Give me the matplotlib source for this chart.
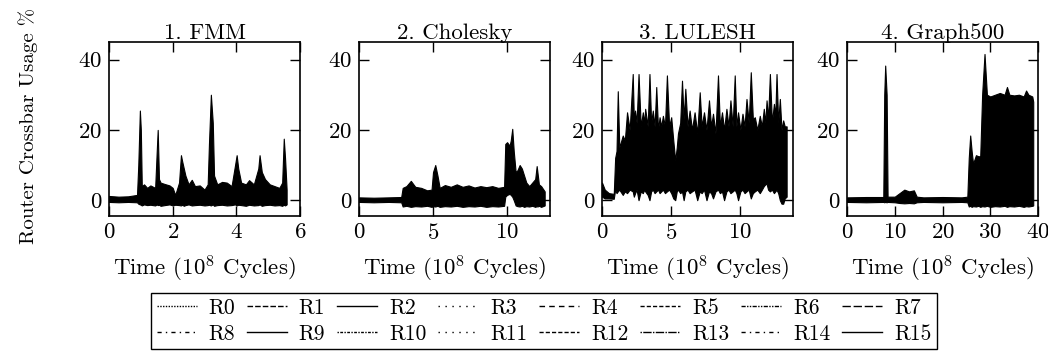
import matplotlib
matplotlib.use("Agg")
import matplotlib.pyplot as plt
from matplotlib.lines import Line2D

plt.rcParams["font.family"] = "serif"
plt.rcParams["font.serif"] = ["cmr10", "DejaVu Serif"]
plt.rcParams["mathtext.fontset"] = "cm"
plt.rcParams["axes.formatter.use_mathtext"] = True

# panel titles and x ranges
titles = ["1. FMM", "2. Cholesky", "3. LULESH", "4. Graph500"]
xmax = [6, 12.9, 13.8, 40]
xticks = [[0, 2, 4, 6], [0, 5, 10], [0, 5, 10], [0, 10, 20, 30, 40]]
routers = ["R%d" % i for i in range(16)]

# 1. FMM (envelope of all routers)
fmm_t = [0.0, 0.3, 0.6, 0.88, 0.92, 0.97, 1.0, 1.03, 1.1, 1.2,
         1.3, 1.45, 1.5, 1.53, 1.57, 1.62, 1.75, 1.9, 2.0, 2.08,
         2.2, 2.26, 2.3, 2.35, 2.4, 2.5, 2.6, 2.7, 2.85, 3.0,
         3.1, 3.14, 3.2, 3.26, 3.3, 3.4, 3.55, 3.7, 3.85, 3.96,
         4.01, 4.06, 4.15, 4.3, 4.4, 4.55, 4.69, 4.73, 4.8, 4.9,
         5.05, 5.2, 5.35, 5.44, 5.49, 5.53, 5.58]
fmm_hi = [1.2, 1.0, 1.1, 1.5, 10, 25.5, 20, 4, 4.5, 3.5,
          4.2, 3.5, 14, 20, 6, 5, 4.6, 4.2, 3.5, 1.5,
          5, 12.8, 11, 9, 7, 4.5, 5.8, 4.0, 4.2, 3.0,
          4.5, 16, 30, 22, 7, 4.5, 5.2, 5.0, 4.0, 10,
          12.8, 9, 5, 4.5, 5.7, 4.5, 9, 12.8, 8, 6,
          4.5, 4.0, 3.5, 5, 17.5, 12, 3]
fmm_lo = [-0.5, -0.6, -0.5, -0.6, -1.0, -1.2, -1.3, -1.5, -1.2, -1.4,
          -1.3, -1.5, -1.2, -1.4, -1.3, -1.6, -1.4, -1.2, -1.5, -1.3,
          -1.4, -1.5, -1.3, -1.6, -1.4, -1.2, -1.5, -1.4, -1.3, -1.5,
          -1.4, -1.3, -1.5, -1.2, -1.6, -1.4, -1.3, -1.5, -1.4, -1.2,
          -1.5, -1.3, -1.4, -1.6, -1.3, -1.5, -1.4, -1.2, -1.6, -1.4,
          -1.3, -1.5, -1.4, -1.6, -1.3, -1.5, -1.2]

# 2. Cholesky
chol_t = [0, 1, 2, 2.85, 2.95, 3.2, 3.5, 3.8, 4.2, 4.6,
          4.9, 5.0, 5.15, 5.3, 5.45, 5.8, 6.2, 6.6, 7.0, 7.4,
          7.8, 8.2, 8.6, 9.0, 9.4, 9.8, 9.88, 10.0, 10.17, 10.25,
          10.35, 10.45, 10.58, 10.7, 10.85, 11.0, 11.15, 11.3, 11.5, 11.7,
          11.9, 12.0, 12.05, 12.15, 12.3, 12.54]
chol_hi = [0.8, 0.7, 0.8, 0.9, 3.5, 4, 5.5, 3.8, 3.5, 2.8,
           3, 8, 10, 7, 3.5, 4.3, 3.8, 4.5, 3.8, 4.2,
           3.6, 4.0, 3.7, 4.0, 3.5, 3.8, 16, 16.5, 15.5, 17,
           20.3, 14, 8, 8.5, 10, 9, 7, 5, 4, 5,
           6, 9.7, 8, 4.5, 4.0, 2.5]
chol_lo = [-0.5, -0.6, -0.5, -0.6, -1.8, -1.6, -1.9, -1.7, -1.8, -1.6,
           -1.9, -1.7, -1.8, -1.6, -1.9, -1.7, -1.8, -1.6, -1.9, -1.7,
           -1.8, -1.6, -1.9, -1.7, -1.8, -1.6, 1.0, 1.5, 1.8, 1.5,
           1.0, 0.0, -1.5, -1.7, -1.8, -1.6, -1.9, -1.7, -1.8, -1.6,
           -1.9, -1.7, -1.8, -1.6, -1.9, -1.5]

# 3. LULESH
lul_t = [0, 0.2, 0.5, 0.85, 0.95, 1.05, 1.14, 1.25, 1.5, 1.65,
         1.81, 2.0, 2.22, 2.3, 2.39, 2.5, 2.64, 2.8, 2.95, 3.05,
         3.12, 3.3, 3.43, 3.55, 3.67, 3.8, 3.92, 4.05, 4.16, 4.28,
         4.40, 4.55, 4.69, 4.85, 5.0, 5.15, 5.29, 5.4, 5.49, 5.65,
         5.78, 5.9, 6.02, 6.18, 6.33, 6.5, 6.69, 6.88, 7.06, 7.2,
         7.37, 7.55, 7.73, 7.88, 8.02, 8.2, 8.38, 8.52, 8.67, 8.82,
         8.99, 9.14, 9.28, 9.44, 9.59, 9.71, 9.83, 10.0, 10.15, 10.3,
         10.44, 10.6, 10.75, 10.9, 11.04, 11.22, 11.40, 11.55, 11.69, 11.8,
         11.89, 12.0, 12.13, 12.28, 12.42, 12.52, 12.61, 12.73, 12.85, 12.97,
         13.09, 13.2, 13.34]
lul_hi = [5, 3, 2, 1.8, 12, 14, 31, 15, 18.4, 17,
          25, 20, 35.9, 23, 25.5, 22, 35.9, 21, 25, 22,
          26, 21, 35.9, 22, 25.5, 21, 32.2, 20, 23.6, 21,
          24, 21, 35.5, 21, 23.6, 17, 11.3, 15, 19, 22,
          34, 23, 31.7, 21, 25.5, 20, 25, 19, 30.7, 21,
          25, 20, 28.4, 21, 24.6, 19, 35.5, 21, 25, 20,
          26, 21, 28.4, 21, 35.5, 21, 25, 20, 24.6, 21,
          28.8, 22, 36.4, 23, 23.6, 20, 24, 21, 26, 22,
          28.4, 23, 35.9, 22, 27.4, 24, 35.9, 22, 28.8, 20,
          22.7, 21, 21]
lul_lo = [1.0, 0.5, 0.5, 0.4, 3.0, 2.0, 2.5, 3.0, 1.5, 2.5,
          2.0, 3.0, 2.5, 1.0, 2.0, 3.0, 0.0, 2.5, 2.0, 3.0,
          2.5, 1.5, 0.0, 2.5, 3.0, 2.0, 2.5, 3.0, 2.0, 2.5,
          3.0, 2.0, 2.5, 3.0, 2.0, 0.5, 0.0, 2.5, 3.0, 2.0,
          2.5, 0.0, 2.5, 3.0, 2.0, 2.5, 3.0, 0.0, 2.5, 2.0,
          3.0, 0.0, 2.5, 2.0, 0.5, 2.5, 3.0, 2.0, 2.5, 0.0,
          2.5, 3.0, 2.0, 2.5, 3.0, 2.0, 0.0, 2.5, 3.0, 2.0,
          2.5, 3.0, 0.5, 2.0, 2.5, 3.0, 2.0, 3.0, 4.0, 4.5,
          4.7, 3.0, 2.5, 3.0, 2.0, 2.5, 3.0, 2.0, 0.0, -1.0,
          -1.0, 0.5, 1.0]

# 4. Graph500
g5_t = [0, 4, 7.6, 7.8, 8.0, 8.3, 8.5, 10, 11, 12,
        13, 14, 14.6, 16, 20, 24, 25.2, 25.5, 25.8, 26.1,
        26.4, 27, 27.5, 27.9, 28.3, 28.8, 29.3, 30, 31, 32,
        33, 33.5, 34, 35, 36, 37, 37.5, 38, 38.8, 39.0]
g5_hi = [0.8, 0.9, 0.9, 30, 38.3, 30, 1.0, 1.0, 2.0, 3.0,
         2.5, 2.8, 1.0, 0.8, 0.9, 0.8, 1.0, 12, 18.4, 14,
         10.4, 12.8, 12.5, 12.5, 30, 41.6, 30, 29.5, 30, 30.5,
         30, 32.2, 30, 29.8, 30, 29.5, 31.2, 30, 29.5, 28]
g5_lo = [-0.5, -0.6, -0.5, -0.6, -0.5, -0.6, -0.5, -0.6, -0.8, -0.9,
         -0.8, -0.9, -0.6, -0.5, -0.6, -0.5, -0.6, -1.8, -1.6, -1.9,
         -1.7, -1.8, -1.6, -1.9, -1.7, -1.8, -1.6, -1.9, -1.7, -1.8,
         -1.6, -1.9, -1.7, -1.8, -1.6, -1.9, -1.7, -1.8, -1.6, -1.5]

panels = [(fmm_t, fmm_lo, fmm_hi), (chol_t, chol_lo, chol_hi),
          (lul_t, lul_lo, lul_hi), (g5_t, g5_lo, g5_hi)]

# legend line styles of R0..R15
styles = [(0, (1, 1)), (0, (4, 1.5)), "-", (0, (1, 4)),
          (0, (4, 3)), (0, (3, 1.5)), (0, (3, 1, 1, 1, 1, 1)), (0, (6, 2)),
          (0, (3, 3, 1, 3)), "-", (0, (1, 1, 2, 1)), (0, (1, 4)),
          (0, (3, 1.5)), (0, (1, 1, 6, 1)), (0, (3, 3, 1, 3)), "-"]

fig = plt.figure(figsize=(10.48, 3.51), dpi=100)
lefts = [109, 359, 602, 847]
for i in range(4):
    ax = fig.add_axes([lefts[i] / 1048, 135 / 351, 191 / 1048, 174 / 351])
    t, lo, hi = panels[i]
    ax.fill_between(t, lo, hi, color="black", linewidth=0.8)
    ax.set_xlim(0, xmax[i])
    ax.set_ylim(-4.5, 45)
    ax.set_xticks(xticks[i])
    ax.set_yticks([0, 20, 40])
    ax.tick_params(direction="in", top=True, right=True, length=7.5,
                   width=1, labelsize=16.5, pad=5)
    for s in ax.spines.values():
        s.set_linewidth(1.2)
    ax.set_title(titles[i], fontsize=16.5, pad=2)
    ax.set_xlabel("Time ($10^8$ Cycles)", fontsize=16.5, labelpad=8)

fig.text(0.027, 0.64, "Router Crossbar Usage %", rotation=90,
         ha="center", va="center", fontsize=15)

# legend: pgfplots-style row order R0..R7 / R8..R15
handles = [Line2D([], [], color="black", linestyle=s, linewidth=1) for s in styles]
order = []
for c in range(8):
    order += [c, c + 8]
leg = fig.legend([handles[k] for k in order], [routers[k] for k in order],
                 ncol=8, loc="center", bbox_to_anchor=(544 / 1048, 1 - 321 / 351),
                 fontsize=15.5, handlelength=1.85, handletextpad=0.55,
                 columnspacing=0.56, labelspacing=0.3, borderpad=0.25,
                 borderaxespad=0, fancybox=False, framealpha=1, edgecolor="black")
leg.get_frame().set_linewidth(1)

plt.savefig("out.png", dpi=100)
